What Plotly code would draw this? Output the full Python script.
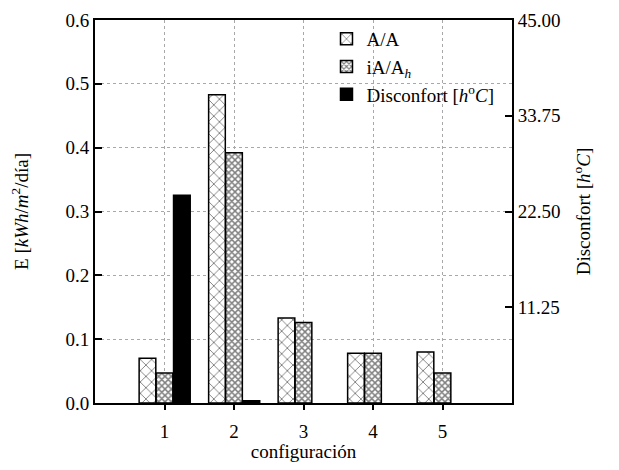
import plotly.graph_objects as go

configs = [1, 2, 3, 4, 5]
energia_AA = [0.070, 0.483, 0.133, 0.078, 0.080]
energia_iAAh = [0.047, 0.392, 0.126, 0.078, 0.047]
disconfort = [24.4, 0.25, None, None, None]

left_ticks = [0.0, 0.1, 0.2, 0.3, 0.4, 0.5, 0.6]
right_ticks = [11.25, 22.50, 33.75, 45.00]

FONT = "Liberation Serif"
FS = 19
W = 0.24

fig = go.Figure()
fig.add_trace(go.Bar(
    x=configs, y=energia_AA, name="A/A", width=W, offset=-0.365,
    marker=dict(color="white", line=dict(color="black", width=1.5),
                pattern=dict(shape="x", size=8, solidity=0.22, fgcolor="black", bgcolor="white")),
))
fig.add_trace(go.Bar(
    x=configs, y=energia_iAAh, name="iA/A<sub><i>h</i></sub>", width=W, offset=-0.12,
    marker=dict(color="white", line=dict(color="black", width=1.5),
                pattern=dict(shape="x", size=4.5, solidity=0.55, fgcolor="black", bgcolor="white")),
))
fig.add_trace(go.Bar(
    x=configs, y=disconfort, name="Disconfort [<i>h</i><sup>o</sup><i>C</i>]", width=W, offset=0.13,
    yaxis="y2",
    marker=dict(color="black", line=dict(color="black", width=1.5)),
))

fig.update_layout(
    width=603, height=454,
    margin=dict(l=87, r=99, t=12, b=59),
    paper_bgcolor="white", plot_bgcolor="white",
    font=dict(family=FONT, size=FS, color="black"),
    xaxis=dict(
        range=[0, 6], tickvals=configs, ticktext=[str(c) for c in configs],
        ticks="outside", ticklen=5, tickwidth=2, tickcolor="black",
        ticklabelstandoff=5,
        showline=True, linecolor="black", linewidth=2, mirror=True,
        showgrid=True, gridcolor="#a8a8a8", griddash="dot", gridwidth=1,
        zeroline=False, automargin=False,
        tickfont=dict(size=FS),
        title=dict(text="configuración", standoff=20, font=dict(size=FS)),
    ),
    yaxis=dict(
        range=[0, 0.6], tickvals=left_ticks, ticktext=[f"{v:.1f}" for v in left_ticks],
        ticks="inside", ticklen=7, tickwidth=1.5, tickcolor="black",
        showline=True, linecolor="black", linewidth=2, mirror=True,
        showgrid=True, gridcolor="#a8a8a8", griddash="dot", gridwidth=1,
        zeroline=False, automargin=False,
        tickfont=dict(size=FS),
        title=dict(text="E [<i>kWh</i>/<i>m</i><sup>2</sup>/día]", standoff=35, font=dict(size=FS)),
    ),
    yaxis2=dict(
        overlaying="y", side="right", range=[0, 45],
        tickvals=right_ticks, ticktext=[f"{v:.2f}" for v in right_ticks],
        ticks="inside", ticklen=7, tickwidth=1.5, tickcolor="black",
        showline=True, linecolor="black", linewidth=2,
        showgrid=False, zeroline=False, automargin=False,
        tickfont=dict(size=FS),
        title=dict(text="Disconfort [<i>h</i><sup>o</sup><i>C</i>]", standoff=17, font=dict(size=FS)),
    ),
    legend=dict(x=0.97, xanchor="right", y=1.0, yanchor="top",
                bgcolor="rgba(255,255,255,0)", font=dict(family=FONT, size=19),
                tracegroupgap=0),
    showlegend=True,
)

fig.write_html("out.html")
